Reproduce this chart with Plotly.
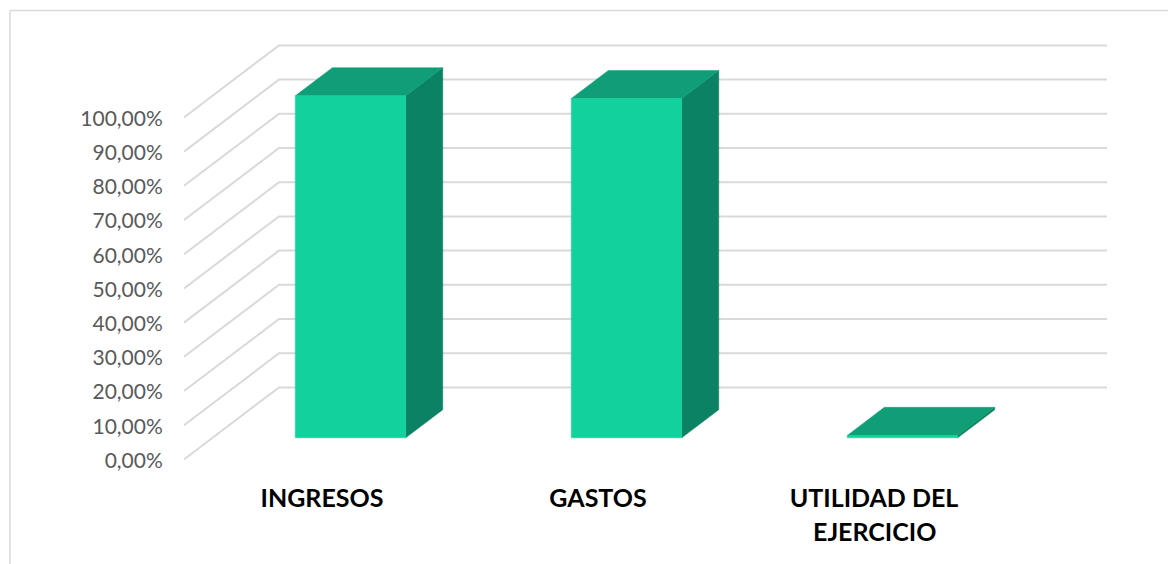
import plotly.graph_objects as go

category_lines = [["INGRESOS"], ["GASTOS"], ["UTILIDAD DEL", "EJERCICIO"]]
values = [100.0, 99.2, 0.7]
y_ticks = [0, 10, 20, 30, 40, 50, 60, 70, 80, 90, 100]
y_labels = ["0,00%", "10,00%", "20,00%", "30,00%", "40,00%", "50,00%",
            "60,00%", "70,00%", "80,00%", "90,00%", "100,00%"]

# The page has an 8 px body margin, so the figure is inset by it.
INSET = 8
W, H = 1176, 564
L, R, T, B = 184, 1110, 40, 460
PX_PER_CAT = 276.0
PX_PER_UNIT = 3.42
Y0 = 459.4
DX = 95.0 / PX_PER_CAT      # full wall depth, in category units
DY = 72.0 / PX_PER_UNIT     # full wall depth, in value units
BAR_W = 0.40
D_FRONT, D_BACK = 0.30, 0.69

FRONT, TOP, SIDE = "#12D19C", "#0F9E76", "#0B8263"
GRID = "#D9D9D9"


def proj(x, v, d):
    return x + d * DX, v + d * DY


def poly(pts, color, name):
    xs, ys = zip(*[proj(*p) for p in pts])
    return go.Scatter(x=list(xs) + [xs[0]], y=list(ys) + [ys[0]], mode="lines", fill="toself",
                      fillcolor=color, line=dict(color=color, width=0.5), name=name,
                      hoverinfo="skip", showlegend=False, cliponaxis=False)


fig = go.Figure()
x_lo, x_hi = -0.5, len(category_lines) - 0.5
for v in y_ticks:
    a = proj(x_lo, v, 0)
    b = proj(x_lo, v, 1)
    c = proj(x_hi, v, 1)
    fig.add_trace(go.Scatter(x=[a[0], b[0], c[0]], y=[a[1], b[1], c[1]], mode="lines",
                             line=dict(color=GRID, width=2), hoverinfo="skip",
                             showlegend=False, cliponaxis=False))

for i, v in enumerate(values):
    x0, x1 = i - BAR_W / 2, i + BAR_W / 2
    fig.add_trace(poly([(x1, 0, D_FRONT), (x1, 0, D_BACK), (x1, v, D_BACK), (x1, v, D_FRONT)], SIDE, "side"))
    fig.add_trace(poly([(x0, v, D_FRONT), (x1, v, D_FRONT), (x1, v, D_BACK), (x0, v, D_BACK)], TOP, "top"))
    fig.add_trace(poly([(x0, 0, D_FRONT), (x1, 0, D_FRONT), (x1, v, D_FRONT), (x0, v, D_FRONT)], FRONT, "front"))


def px(p):
    return (p - L) / (R - L)


def py(p):
    return (B - p) / (B - T)


cat_font = dict(family="Lato", size=25, color="#000000", weight="bold")
second_lines = [
    dict(x=i, xref="x", y=py(531), yref="paper", text=lines[1], showarrow=False,
         xanchor="center", yanchor="middle", font=cat_font)
    for i, lines in enumerate(category_lines) if len(lines) > 1
]

fig.update_layout(
    width=W - INSET, height=H - INSET, autosize=False,
    margin=dict(l=L - INSET, r=W - R, t=T - INSET, b=H - B, pad=0),
    paper_bgcolor="white", plot_bgcolor="rgba(0,0,0,0)",
    showlegend=False,
    annotations=second_lines,
    xaxis=dict(range=[-0.5, -0.5 + (R - L) / PX_PER_CAT], tickmode="array",
               tickvals=list(range(len(category_lines))),
               ticktext=[lines[0] for lines in category_lines],
               showgrid=False, zeroline=False, showline=False,
               ticks="outside", ticklen=16, tickcolor="rgba(0,0,0,0)",
               tickfont=cat_font),
    yaxis=dict(range=[(Y0 - B) / PX_PER_UNIT, (Y0 - T) / PX_PER_UNIT], tickmode="array",
               tickvals=y_ticks, ticktext=y_labels,
               showgrid=False, zeroline=False, showline=False,
               ticks="outside", ticklen=16, tickcolor="rgba(0,0,0,0)",
               ticklabelshift=1,
               tickfont=dict(family="Lato", size=21, color="#595959")),
    shapes=[
        dict(type="line", xref="paper", yref="paper", x0=px(10), x1=px(W), y0=py(10.5), y1=py(10.5),
             line=dict(color="#D9D9D9", width=1.5), layer="below"),
        dict(type="line", xref="paper", yref="paper", x0=px(10), x1=px(10), y0=py(10.5), y1=py(H),
             line=dict(color="#D9D9D9", width=1.5), layer="below"),
    ],
)
fig.write_html("out.html")
